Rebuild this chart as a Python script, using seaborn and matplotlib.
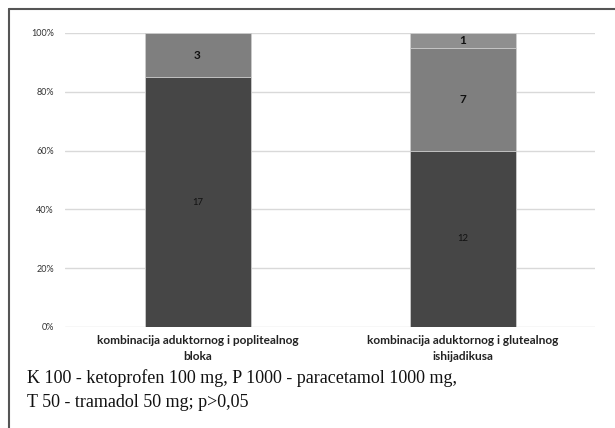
import numpy as np
import pandas as pd
import matplotlib
matplotlib.use("Agg")
import matplotlib.pyplot as plt
import seaborn as sns
from matplotlib.lines import Line2D

# Podaci
kategorije = ["kombinacija aduktornog i poplitealnog\nbloka",
              "kombinacija aduktornog i glutealnog\nishijadikusa"]
serija_1 = [17, 12]
serija_2 = [3, 7]
serija_3 = [0, 1]
boje = ["#464646", "#7f7f7f", "#8f8f8f"]
napomena = ("K 100 - ketoprofen 100 mg, P 1000 - paracetamol 1000 mg,\n"
            "T 50 - tramadol 50 mg; p>0,05")

sns.set_style("white")
plt.rcParams["font.family"] = ["Lato", "DejaVu Sans"]

ukupno = np.array(serija_1) + np.array(serija_2) + np.array(serija_3)
p1 = np.array(serija_1) / ukupno * 100
p2 = np.array(serija_2) / ukupno * 100
p3 = np.array(serija_3) / ukupno * 100

fig = plt.figure(figsize=(6.15, 4.28), dpi=100)
ax = fig.add_axes([65 / 615, 1 - 327 / 428, 530 / 615, 294 / 428])

# kumulativni slojevi, od najvišeg prema najnižem
slojevi = [(p1 + p2 + p3, boje[2]), (p1 + p2, boje[1]), (p1, boje[0])]
for vrijednosti, boja in slojevi:
    df = pd.DataFrame({"kat": kategorije, "v": vrijednosti})
    sns.barplot(data=df, x="kat", y="v", color=boja, saturation=1,
                width=0.4, edgecolor="#d0d0d0", linewidth=0.6, ax=ax)

ax.set_ylim(0, 100)
ax.set_yticks([0, 20, 40, 60, 80, 100])
ax.set_yticklabels(["0%", "20%", "40%", "60%", "80%", "100%"],
                   fontsize=6.5, color="#333333")
ax.yaxis.grid(True, color="#d9d9d9", linewidth=1)
ax.set_axisbelow(True)
for s in ax.spines.values():
    s.set_visible(False)
ax.tick_params(axis="y", length=0, pad=8)
ax.tick_params(axis="x", length=0, pad=6)
ax.set_xlabel("")
ax.set_ylabel("")
plt.setp(ax.get_xticklabels(), fontsize=8.6, fontweight="bold",
         color="#222222", linespacing=1.5)

# oznake vrijednosti
for i in range(len(kategorije)):
    ax.text(i, p1[i] / 2, str(serija_1[i]), ha="center", va="center",
            fontsize=6.8, color="#111111")
    if serija_2[i]:
        ax.text(i, p1[i] + p2[i] / 2, str(serija_2[i]), ha="center",
                va="center", fontsize=8.5, fontweight="bold", color="#111111")
    if serija_3[i]:
        ax.text(i, p1[i] + p2[i] + p3[i] / 2, str(serija_3[i]), ha="center",
                va="center", fontsize=8.5, fontweight="bold", color="#111111")

fig.text(27 / 615, 1 - 390 / 428, napomena, ha="left", va="center",
         fontsize=13, family="Liberation Serif", color="#111111",
         linespacing=1.6)

# okvir (lijevo i gore)
fig.add_artist(Line2D([9 / 615, 9 / 615], [0, 1 - 9 / 428],
                      transform=fig.transFigure, color="#555555", lw=1.5))
fig.add_artist(Line2D([9 / 615, 1], [1 - 9 / 428, 1 - 9 / 428],
                      transform=fig.transFigure, color="#555555", lw=1.5))

fig.savefig("out.png", dpi=100)
